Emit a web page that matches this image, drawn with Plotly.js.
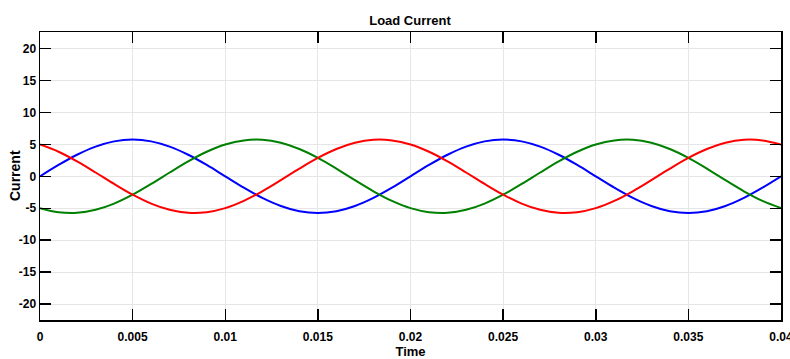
<!DOCTYPE html>
<html>
<head>
<meta charset="utf-8">
<script src="https://cdn.plot.ly/plotly-3.0.1.min.js"></script>
<style>html,body{margin:0;padding:0;background:#fff;}#chart{width:790px;height:359px;}</style>
</head>
<body>
<div id="chart"></div>
<script>
const time = [0,0.001,0.002,0.003,0.004,0.005,0.006,0.007,0.008,0.009,0.01,
  0.011,0.012,0.013,0.014,0.015,0.016,0.017,0.018,0.019,0.02,
  0.021,0.022,0.023,0.024,0.025,0.026,0.027,0.028,0.029,0.03,
  0.031,0.032,0.033,0.034,0.035,0.036,0.037,0.038,0.039,0.04];
const phaseBlue = [0,1.78,3.38,4.65,5.47,5.75,5.47,4.65,3.38,1.78,0,
  -1.78,-3.38,-4.65,-5.47,-5.75,-5.47,-4.65,-3.38,-1.78,0,
  1.78,3.38,4.65,5.47,5.75,5.47,4.65,3.38,1.78,0,
  -1.78,-3.38,-4.65,-5.47,-5.75,-5.47,-4.65,-3.38,-1.78,0];
const phaseRed = [4.98,3.85,2.34,0.60,-1.20,-2.88,-4.27,-5.25,-5.72,-5.62,-4.98,
  -3.85,-2.34,-0.60,1.20,2.88,4.27,5.25,5.72,5.62,4.98,
  3.85,2.34,0.60,-1.20,-2.88,-4.27,-5.25,-5.72,-5.62,-4.98,
  -3.85,-2.34,-0.60,1.20,2.88,4.27,5.25,5.72,5.62,4.98];
const phaseGreen = [-4.98,-5.62,-5.72,-5.25,-4.27,-2.88,-1.20,0.60,2.34,3.85,4.98,
  5.62,5.72,5.25,4.27,2.88,1.20,-0.60,-2.34,-3.85,-4.98,
  -5.62,-5.72,-5.25,-4.27,-2.88,-1.20,0.60,2.34,3.85,4.98,
  5.62,5.72,5.25,4.27,2.88,1.20,-0.60,-2.34,-3.85,-4.98];
const xTicks = [0,0.005,0.01,0.015,0.02,0.025,0.03,0.035,0.04];
const xTickText = ['0','0.005','0.01','0.015','0.02','0.025','0.03','0.035','0.04'];
const yTicks = [-20,-15,-10,-5,0,5,10,15,20];
const yTickText = ['-20','-15','-10','-5','0','5','10','15','20'];

const FONT = '"Liberation Sans", Arial, sans-serif';
function tr(y, color){
  return {x: time, y: y, type:'scatter', mode:'lines',
    line:{color: color, width:2, shape:'spline', smoothing:1}, hoverinfo:'skip'};
}
const data = [tr(phaseBlue,'#0000ff'), tr(phaseGreen,'#008000'), tr(phaseRed,'#ff0000')];
const axisCommon = {
  showline:true, linecolor:'#000', linewidth:1.5, mirror:'ticks',
  ticks:'inside', ticklen:11, tickwidth:1.5, tickcolor:'#000',
  showgrid:true, gridcolor:'#e6e6e6', gridwidth:1, zeroline:false,
  ticklabeloverflow:'allow',
  tickfont:{family:FONT, size:12, color:'#000', weight:'bold'}
};
const layout = {
  width:790, height:359,
  margin:{l:40, r:9, t:32, b:39},
  paper_bgcolor:'#fff', plot_bgcolor:'#fff',
  showlegend:false,
  title:{text:'<b>Load Current</b>', x:0.519, xanchor:'center', y:0.944, yanchor:'middle',
    font:{family:FONT, size:13, color:'#000'}},
  xaxis: Object.assign({}, axisCommon, {
    range:[0,0.04], tickvals:xTicks, ticktext:xTickText, ticklabelstandoff:5,
    title:{text:'<b>Time</b>', font:{family:FONT, size:13, color:'#000'}, standoff:10}
  }),
  yaxis: Object.assign({}, axisCommon, {
    range:[-22.5,22.6], tickvals:yTicks, ticktext:yTickText
  }),
  annotations:[{
    text:'<b>Current</b>', xref:'paper', yref:'paper', x:0, y:0.5,
    xanchor:'center', yanchor:'middle', xshift:-25, textangle:-90, showarrow:false,
    font:{family:FONT, size:14, color:'#000'}
  }]
};
Plotly.newPlot('chart', data, layout, {staticPlot:true, displayModeBar:false});
</script>
</body>
</html>
